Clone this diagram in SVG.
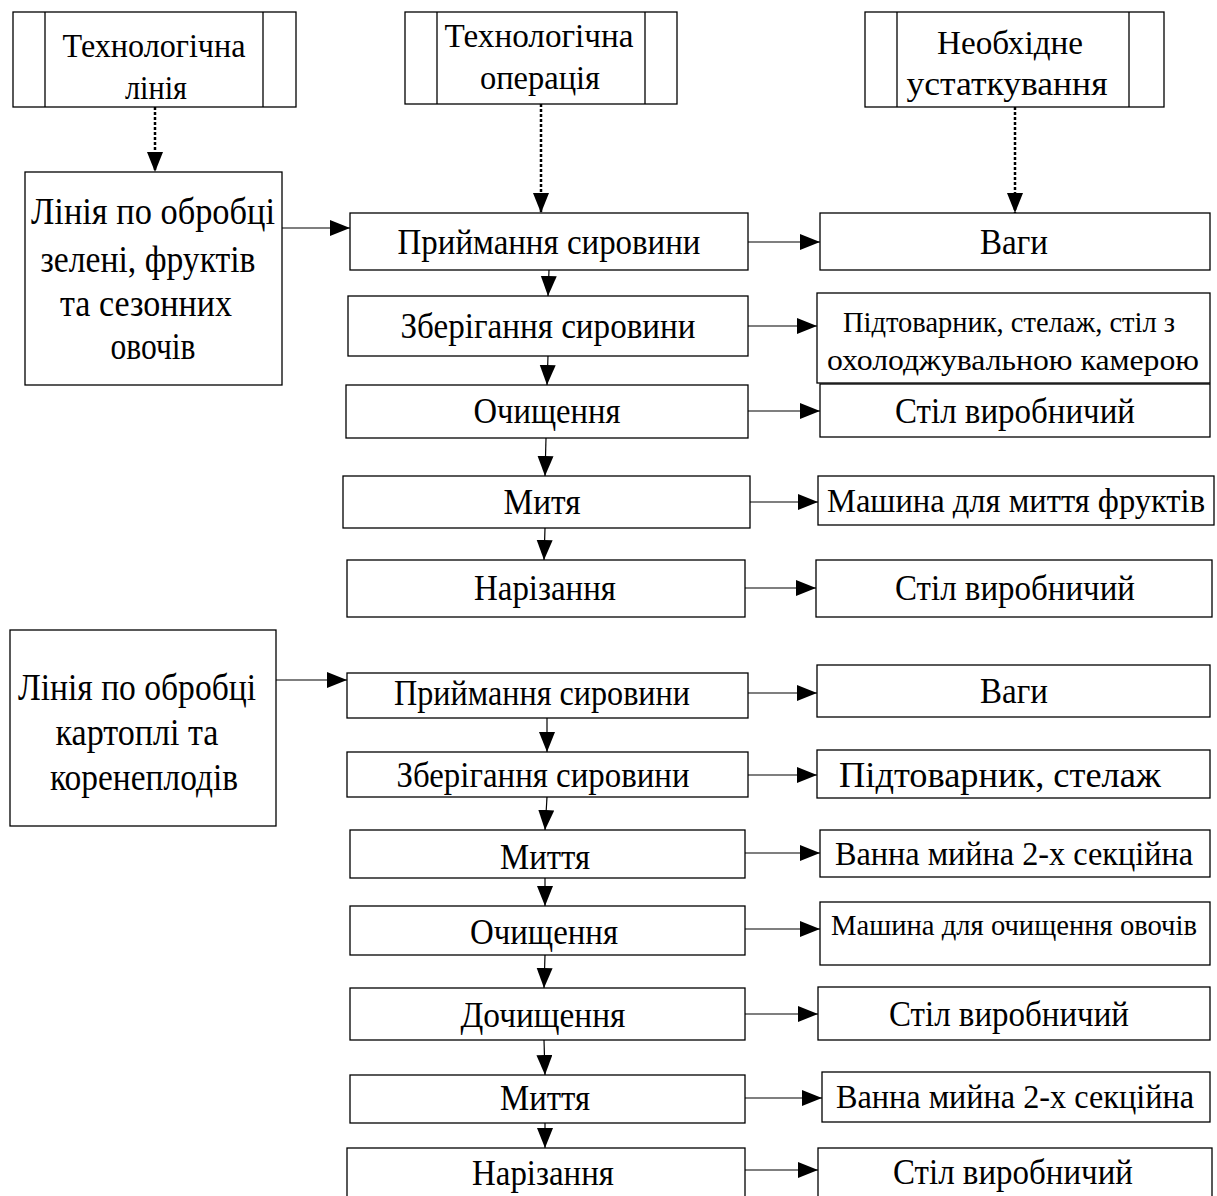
<svg xmlns="http://www.w3.org/2000/svg" width="1217" height="1196" viewBox="0 0 1217 1196">
<style>
.box{fill:#fff;stroke:#000;stroke-width:1.3}
.ln{fill:none;stroke:#000;stroke-width:1.3}
.t{font-family:"Liberation Serif","Times New Roman",serif;font-size:36px;fill:#000;text-anchor:middle}
.h{font-size:34px}
.l{font-size:38px}
.s{font-size:29px}
.m{font-size:33px}
.c{fill:none;stroke:#000;stroke-width:1.2}
.d{fill:none;stroke:#000;stroke-width:2.5;stroke-dasharray:3 2}
</style>
<defs>
<marker id="ah" markerUnits="userSpaceOnUse" markerWidth="22" markerHeight="18" refX="20" refY="8" orient="auto">
<path d="M0,0 L20,8 L0,16 z" fill="#000"/>
</marker>
</defs>
<rect width="1217" height="1196" fill="#fff"/>
<g id="connectors">
<line class="d" x1="155" y1="107" x2="155" y2="172" marker-end="url(#ah)"/>
<line class="d" x1="541" y1="104" x2="541" y2="213" marker-end="url(#ah)"/>
<line class="d" x1="1015" y1="107" x2="1015" y2="213" marker-end="url(#ah)"/>
<line class="c" x1="282" y1="228" x2="350" y2="228" marker-end="url(#ah)"/>
<line class="c" x1="276" y1="680" x2="347" y2="680" marker-end="url(#ah)"/>
<line class="c" x1="549" y1="270" x2="548" y2="296" marker-end="url(#ah)"/>
<line class="c" x1="548" y1="356" x2="547" y2="385" marker-end="url(#ah)"/>
<line class="c" x1="546" y1="438" x2="545" y2="476" marker-end="url(#ah)"/>
<line class="c" x1="545" y1="528" x2="544" y2="560" marker-end="url(#ah)"/>
<line class="c" x1="547" y1="718" x2="547" y2="752" marker-end="url(#ah)"/>
<line class="c" x1="547" y1="797" x2="545" y2="830" marker-end="url(#ah)"/>
<line class="c" x1="545" y1="878" x2="545" y2="906" marker-end="url(#ah)"/>
<line class="c" x1="545" y1="955" x2="544" y2="988" marker-end="url(#ah)"/>
<line class="c" x1="544" y1="1040" x2="545" y2="1075" marker-end="url(#ah)"/>
<line class="c" x1="545" y1="1123" x2="545" y2="1148" marker-end="url(#ah)"/>
<line class="c" x1="748" y1="242" x2="820" y2="242" marker-end="url(#ah)"/>
<line class="c" x1="748" y1="326" x2="817" y2="326" marker-end="url(#ah)"/>
<line class="c" x1="748" y1="411" x2="820" y2="411" marker-end="url(#ah)"/>
<line class="c" x1="750" y1="502" x2="818" y2="502" marker-end="url(#ah)"/>
<line class="c" x1="745" y1="588" x2="816" y2="588" marker-end="url(#ah)"/>
<line class="c" x1="748" y1="693" x2="817" y2="693" marker-end="url(#ah)"/>
<line class="c" x1="748" y1="775" x2="817" y2="775" marker-end="url(#ah)"/>
<line class="c" x1="745" y1="853" x2="820" y2="853" marker-end="url(#ah)"/>
<line class="c" x1="745" y1="929" x2="820" y2="929" marker-end="url(#ah)"/>
<line class="c" x1="745" y1="1014" x2="818" y2="1014" marker-end="url(#ah)"/>
<line class="c" x1="745" y1="1098" x2="822" y2="1098" marker-end="url(#ah)"/>
<line class="c" x1="745" y1="1170" x2="818" y2="1170" marker-end="url(#ah)"/>
</g>
<g id="h1"><rect class="box" x="13" y="12" width="283" height="95"/><line class="ln" x1="45" y1="12" x2="45" y2="107"/><line class="ln" x1="263" y1="12" x2="263" y2="107"/><text class="t h" x="154" y="57" textLength="183" lengthAdjust="spacingAndGlyphs">Технологічна</text><text class="t h" x="156" y="99" textLength="62" lengthAdjust="spacingAndGlyphs">лінія</text></g>
<g id="h2"><rect class="box" x="405" y="12" width="272" height="92"/><line class="ln" x1="437" y1="12" x2="437" y2="104"/><line class="ln" x1="645" y1="12" x2="645" y2="104"/><text class="t h" x="539" y="47" textLength="189" lengthAdjust="spacingAndGlyphs">Технологічна</text><text class="t h" x="540" y="89" textLength="120" lengthAdjust="spacingAndGlyphs">операція</text></g>
<g id="h3"><rect class="box" x="865" y="12" width="299" height="95"/><line class="ln" x1="897" y1="12" x2="897" y2="107"/><line class="ln" x1="1129" y1="12" x2="1129" y2="107"/><text class="t h" x="1010" y="54" textLength="146" lengthAdjust="spacingAndGlyphs">Необхідне</text><text class="t h" x="1007" y="95" textLength="201" lengthAdjust="spacingAndGlyphs">устаткування</text></g>
<g id="line1"><rect class="box" x="25" y="172" width="257" height="213"/><text class="t l" x="153" y="224" textLength="244" lengthAdjust="spacingAndGlyphs">Лінія по обробці</text><text class="t l" x="148" y="272" textLength="215" lengthAdjust="spacingAndGlyphs">зелені, фруктів</text><text class="t l" x="146" y="316" textLength="172" lengthAdjust="spacingAndGlyphs">та сезонних</text><text class="t l" x="153" y="359" textLength="85" lengthAdjust="spacingAndGlyphs">овочів</text></g>
<g id="line2"><rect class="box" x="10" y="630" width="266" height="196"/><text class="t l" x="137" y="700" textLength="238" lengthAdjust="spacingAndGlyphs">Лінія по обробці</text><text class="t l" x="137" y="745" textLength="163" lengthAdjust="spacingAndGlyphs">картоплі та</text><text class="t l" x="144" y="790" textLength="188" lengthAdjust="spacingAndGlyphs">коренеплодів</text></g>
<g id="op1"><rect class="box" x="350" y="213" width="398" height="57"/><text class="t" x="549" y="254" textLength="303" lengthAdjust="spacingAndGlyphs">Приймання сировини</text></g>
<g id="op2"><rect class="box" x="348" y="296" width="400" height="60"/><text class="t" x="548" y="338" textLength="295" lengthAdjust="spacingAndGlyphs">Зберігання сировини</text></g>
<g id="op3"><rect class="box" x="346" y="385" width="402" height="53"/><text class="t" x="547" y="423" textLength="147" lengthAdjust="spacingAndGlyphs">Очищення</text></g>
<g id="op4"><rect class="box" x="343" y="476" width="407" height="52"/><text class="t" x="542" y="514" textLength="77" lengthAdjust="spacingAndGlyphs">Митя</text></g>
<g id="op5"><rect class="box" x="347" y="560" width="398" height="57"/><text class="t" x="545" y="600" textLength="142" lengthAdjust="spacingAndGlyphs">Нарізання</text></g>
<g id="eq1"><rect class="box" x="820" y="213" width="390" height="57"/><text class="t" x="1014" y="254" textLength="68" lengthAdjust="spacingAndGlyphs">Ваги</text></g>
<g id="eq2"><rect class="box" x="817" y="293" width="393" height="90"/><text class="t s" x="1009" y="332" textLength="332" lengthAdjust="spacingAndGlyphs">Підтоварник, стелаж, стіл з</text><text class="t s" x="1013" y="370" textLength="372" lengthAdjust="spacingAndGlyphs">охолоджувальною камерою</text></g>
<g id="eq3"><rect class="box" x="820" y="384" width="390" height="53"/><text class="t" x="1015" y="423" textLength="240" lengthAdjust="spacingAndGlyphs">Стіл виробничий</text></g>
<g id="eq4"><rect class="box" x="818" y="476" width="396" height="49"/><text class="t m" x="1016" y="512" textLength="378" lengthAdjust="spacingAndGlyphs">Машина для миття фруктів</text></g>
<g id="eq5"><rect class="box" x="816" y="560" width="396" height="57"/><text class="t" x="1015" y="600" textLength="240" lengthAdjust="spacingAndGlyphs">Стіл виробничий</text></g>
<g id="op6"><rect class="box" x="347" y="673" width="401" height="45"/><text class="t" x="542" y="705" textLength="296" lengthAdjust="spacingAndGlyphs">Приймання сировини</text></g>
<g id="op7"><rect class="box" x="347" y="752" width="401" height="45"/><text class="t" x="543" y="787" textLength="293" lengthAdjust="spacingAndGlyphs">Зберігання сировини</text></g>
<g id="op8"><rect class="box" x="350" y="830" width="395" height="48"/><text class="t" x="545" y="869" textLength="90" lengthAdjust="spacingAndGlyphs">Миття</text></g>
<g id="op9"><rect class="box" x="350" y="906" width="395" height="49"/><text class="t" x="544" y="944" textLength="148" lengthAdjust="spacingAndGlyphs">Очищення</text></g>
<g id="op10"><rect class="box" x="350" y="988" width="395" height="52"/><text class="t" x="543" y="1027" textLength="165" lengthAdjust="spacingAndGlyphs">Дочищення</text></g>
<g id="op11"><rect class="box" x="350" y="1075" width="395" height="48"/><text class="t" x="545" y="1110" textLength="90" lengthAdjust="spacingAndGlyphs">Миття</text></g>
<g id="op12"><rect class="box" x="347" y="1148" width="398" height="50"/><text class="t" x="543" y="1185" textLength="142" lengthAdjust="spacingAndGlyphs">Нарізання</text></g>
<g id="eq6"><rect class="box" x="817" y="665" width="393" height="52"/><text class="t" x="1014" y="703" textLength="68" lengthAdjust="spacingAndGlyphs">Ваги</text></g>
<g id="eq7"><rect class="box" x="817" y="750" width="393" height="48"/><text class="t" x="1000" y="787" textLength="322" lengthAdjust="spacingAndGlyphs">Підтоварник, стелаж</text></g>
<g id="eq8"><rect class="box" x="820" y="830" width="390" height="47"/><text class="t m" x="1014" y="865" textLength="358" lengthAdjust="spacingAndGlyphs">Ванна мийна 2-х секційна</text></g>
<g id="eq9"><rect class="box" x="820" y="902" width="390" height="63"/><text class="t s" x="1014" y="935" textLength="366" lengthAdjust="spacingAndGlyphs">Машина для очищення овочів</text></g>
<g id="eq10"><rect class="box" x="818" y="987" width="392" height="53"/><text class="t" x="1009" y="1026" textLength="240" lengthAdjust="spacingAndGlyphs">Стіл виробничий</text></g>
<g id="eq11"><rect class="box" x="822" y="1072" width="388" height="50"/><text class="t m" x="1015" y="1108" textLength="358" lengthAdjust="spacingAndGlyphs">Ванна мийна 2-х секційна</text></g>
<g id="eq12"><rect class="box" x="818" y="1148" width="394" height="50"/><text class="t" x="1013" y="1184" textLength="240" lengthAdjust="spacingAndGlyphs">Стіл виробничий</text></g>
</svg>
